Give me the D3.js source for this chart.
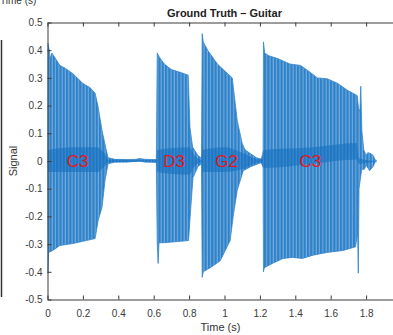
<!DOCTYPE html>
<html>
<head>
<meta charset="utf-8">
<script src="https://cdn.jsdelivr.net/npm/d3@7"></script>
<style>
  body { margin: 0; background: #fff; }
  svg { display: block; font-family: "Liberation Sans", Arial, sans-serif; }
</style>
</head>
<body>
<div id="chart-area"></div>
<script>
// envelope of the guitar signal (time in s)
var upperTime = [0, 0.002, 0.01, 0.015, 0.025, 0.07, 0.10, 0.144, 0.20, 0.24, 0.269, 0.286, 0.308, 0.325, 0.342,
    0.38, 0.45, 0.50, 0.52, 0.55, 0.615,
    0.620, 0.632, 0.66, 0.70, 0.75, 0.795, 0.805, 0.82, 0.85, 0.870,
    0.874, 0.88, 0.905, 0.96, 1.044, 1.05, 1.072, 1.10, 1.117, 1.15, 1.18, 1.21,
    1.218, 1.220, 1.227, 1.25, 1.30, 1.37, 1.43, 1.47, 1.525, 1.58, 1.64, 1.695, 1.750, 1.757, 1.765, 1.770, 1.776, 1.787,
    1.80, 1.81, 1.825, 1.84, 1.85, 1.86];
var upperVal = [0.02, 0.425, 0.40, 0.37, 0.39, 0.345, 0.335, 0.315, 0.28, 0.265, 0.245, 0.195, 0.11, 0.06, 0.012,
    0.006, 0.005, 0.006, 0.009, 0.006, 0.005,
    0.39, 0.375, 0.35, 0.33, 0.32, 0.31, 0.12, 0.05, 0.02, 0.01,
    0.46, 0.43, 0.40, 0.35, 0.30, 0.265, 0.146, 0.063, 0.04, 0.025, 0.012, 0.006,
    0.02, 0.43, 0.39, 0.38, 0.37, 0.35, 0.345, 0.327, 0.30, 0.297, 0.28, 0.255, 0.236, 0.19, 0.18, 0.27, 0.11, 0.04,
    0.02, 0.03, 0.027, 0.02, 0.005, 0];

var lowerTime = [0, 0.002, 0.006, 0.03, 0.07, 0.144, 0.22, 0.269, 0.286, 0.308, 0.325, 0.342,
    0.38, 0.45, 0.52, 0.55, 0.615,
    0.620, 0.625, 0.630, 0.66, 0.75, 0.797, 0.806, 0.822, 0.85, 0.870,
    0.874, 0.88, 0.92, 0.976, 1.032, 1.049, 1.072, 1.106, 1.15, 1.21,
    1.218, 1.220, 1.225, 1.27, 1.33, 1.385, 1.44, 1.50, 1.58, 1.67, 1.74, 1.752, 1.756, 1.760, 1.775,
    1.79, 1.80, 1.82, 1.84, 1.85, 1.86];
var lowerVal = [-0.02, -0.406, -0.33, -0.323, -0.305, -0.298, -0.287, -0.28, -0.215, -0.167, -0.07, -0.01,
    -0.004, -0.004, 0.0, -0.004, -0.005,
    -0.30, -0.37, -0.295, -0.295, -0.29, -0.287, -0.2, -0.06, -0.02, -0.01,
    -0.42, -0.40, -0.385, -0.36, -0.287, -0.2, -0.105, -0.035, -0.02, -0.005,
    -0.02, -0.40, -0.385, -0.37, -0.352, -0.348, -0.352, -0.34, -0.33, -0.323, -0.31, -0.26, -0.405, -0.1, -0.03,
    -0.03, -0.015, -0.035, -0.02, -0.005, 0];

// darker band near zero, where the waveform is densest
var coreTime  = [0, 0.005, 0.15, 0.28, 0.32, 0.345, 0.615, 0.62, 0.80, 0.83, 0.87, 0.875, 1.0, 1.1, 1.2, 1.222, 1.50, 1.745, 1.76, 1.86];
var coreUpper = [0, 0.04, 0.05, 0.05, 0.03, 0.005, 0.003, 0.04, 0.05, 0.02, 0.005, 0.04, 0.05, 0.03, 0.005, 0.04, 0.05, 0.065, 0.01, 0];
var coreLower = [0, -0.04, -0.04, -0.04, -0.02, -0.005, -0.003, -0.04, -0.05, -0.02, -0.005, -0.04, -0.04, -0.03, -0.005, -0.025, -0.01, 0.005, -0.01, 0];

// note annotations
var noteNames = ["C3", "D3", "G2", "C3"];
var noteTimes = [0.17, 0.715, 1.012, 1.485];

var xTicks = [0, 0.2, 0.4, 0.6, 0.8, 1, 1.2, 1.4, 1.6, 1.8];
var yTicks = [-0.5, -0.4, -0.3, -0.2, -0.1, 0, 0.1, 0.2, 0.3, 0.4, 0.5];

var width = 393, height = 335;
var svg = d3.select("#chart-area").append("svg")
    .attr("width", width)
    .attr("height", height);

var x = d3.scaleLinear().domain([0, 2]).range([47.5, 401.5]);
var y = d3.scaleLinear().domain([-0.5, 0.5]).range([299.5, 22.5]);

var defs = svg.append("defs");
var pat = defs.append("pattern")
    .attr("id", "stripes")
    .attr("patternUnits", "userSpaceOnUse")
    .attr("width", 3.3)
    .attr("height", 10);
pat.append("rect").attr("width", 3.3).attr("height", 10).attr("fill", "#2e82ca");
pat.append("rect").attr("x", 2.2).attr("width", 1).attr("height", 10).attr("fill", "#7db1de");

defs.append("clipPath").attr("id", "plotclip")
    .append("rect")
    .attr("x", x(0)).attr("y", y(0.5))
    .attr("width", x(2) - x(0)).attr("height", y(-0.5) - y(0.5));

// outer envelope: upper edge forward, lower edge back
var upperPts = upperTime.map((t, i) => [t, upperVal[i]]);
var lowerPts = lowerTime.map((t, i) => [t, lowerVal[i]]).reverse();
var line = d3.line().x(d => x(d[0])).y(d => y(d[1]));

var plot = svg.append("g").attr("clip-path", "url(#plotclip)");

plot.append("path")
    .attr("d", line(upperPts.concat(lowerPts)) + "Z")
    .attr("fill", "url(#stripes)")
    .attr("stroke", "#3385cc")
    .attr("stroke-width", 0.8);

var core = d3.area()
    .x((d, i) => x(coreTime[i]))
    .y0((d, i) => y(coreLower[i]))
    .y1((d, i) => y(coreUpper[i]))
    .curve(d3.curveMonotoneX);

plot.append("path")
    .datum(coreTime)
    .attr("d", core)
    .attr("fill", "#1570c0")
    .attr("opacity", 0.6);

// axes, MATLAB style box with inward ticks
var fmt = d => String(+d.toFixed(1));

var xAxis = d3.axisBottom(x).tickValues(xTicks).tickFormat(fmt)
    .tickSizeInner(-4).tickSizeOuter(0).tickPadding(10);
var xTop = d3.axisTop(x).tickValues(xTicks).tickFormat("")
    .tickSizeInner(-4).tickSizeOuter(0);
var yAxis = d3.axisLeft(y).tickValues(yTicks).tickFormat(fmt)
    .tickSizeInner(-4).tickSizeOuter(0).tickPadding(5);

svg.append("g")
    .attr("class", "x axis")
    .attr("transform", "translate(0," + y(-0.5) + ")")
    .call(xAxis);

svg.append("g")
    .attr("class", "x top axis")
    .attr("transform", "translate(0," + y(0.5) + ")")
    .call(xTop);

svg.append("g")
    .attr("class", "y axis")
    .attr("transform", "translate(" + x(0) + ",0)")
    .call(yAxis);

svg.selectAll(".axis path, .axis line").attr("stroke", "#3a3a3a");
svg.selectAll(".axis text")
    .attr("font-size", "10px")
    .attr("font-family", "Liberation Sans, Arial, sans-serif")
    .attr("fill", "#3a3a3a");

// note labels
svg.selectAll(".note")
    .data(noteNames)
    .enter()
    .append("text")
    .attr("class", "note")
    .attr("x", (d, i) => x(noteTimes[i]))
    .attr("y", y(0) + 6)
    .attr("text-anchor", "middle")
    .attr("font-size", "17px")
    .attr("fill", "#e8141c")
    .text(d => d);

svg.append("text")
    .attr("x", x(1))
    .attr("y", 17)
    .attr("text-anchor", "middle")
    .attr("font-size", "11px")
    .attr("font-weight", "bold")
    .attr("fill", "#222")
    .text("Ground Truth \u2013 Guitar");

svg.append("text")
    .attr("x", x(1) - 4)
    .attr("y", 331)
    .attr("text-anchor", "middle")
    .attr("font-size", "11px")
    .attr("fill", "#333")
    .text("Time (s)");

svg.append("text")
    .attr("transform", "translate(17," + y(0) + ") rotate(-90)")
    .attr("text-anchor", "middle")
    .attr("font-size", "11px")
    .attr("fill", "#333")
    .text("Signal");

// pieces of the neighbouring subplots, cut off by the crop
svg.append("text")
    .attr("x", 0)
    .attr("y", 4)
    .attr("font-size", "10px")
    .attr("fill", "#333")
    .text("Time (s)");

svg.append("line")
    .attr("x1", 1.5).attr("x2", 1.5)
    .attr("y1", 40).attr("y2", 297)
    .attr("stroke", "#333")
    .attr("stroke-width", 1.5);
</script>
</body>
</html>
